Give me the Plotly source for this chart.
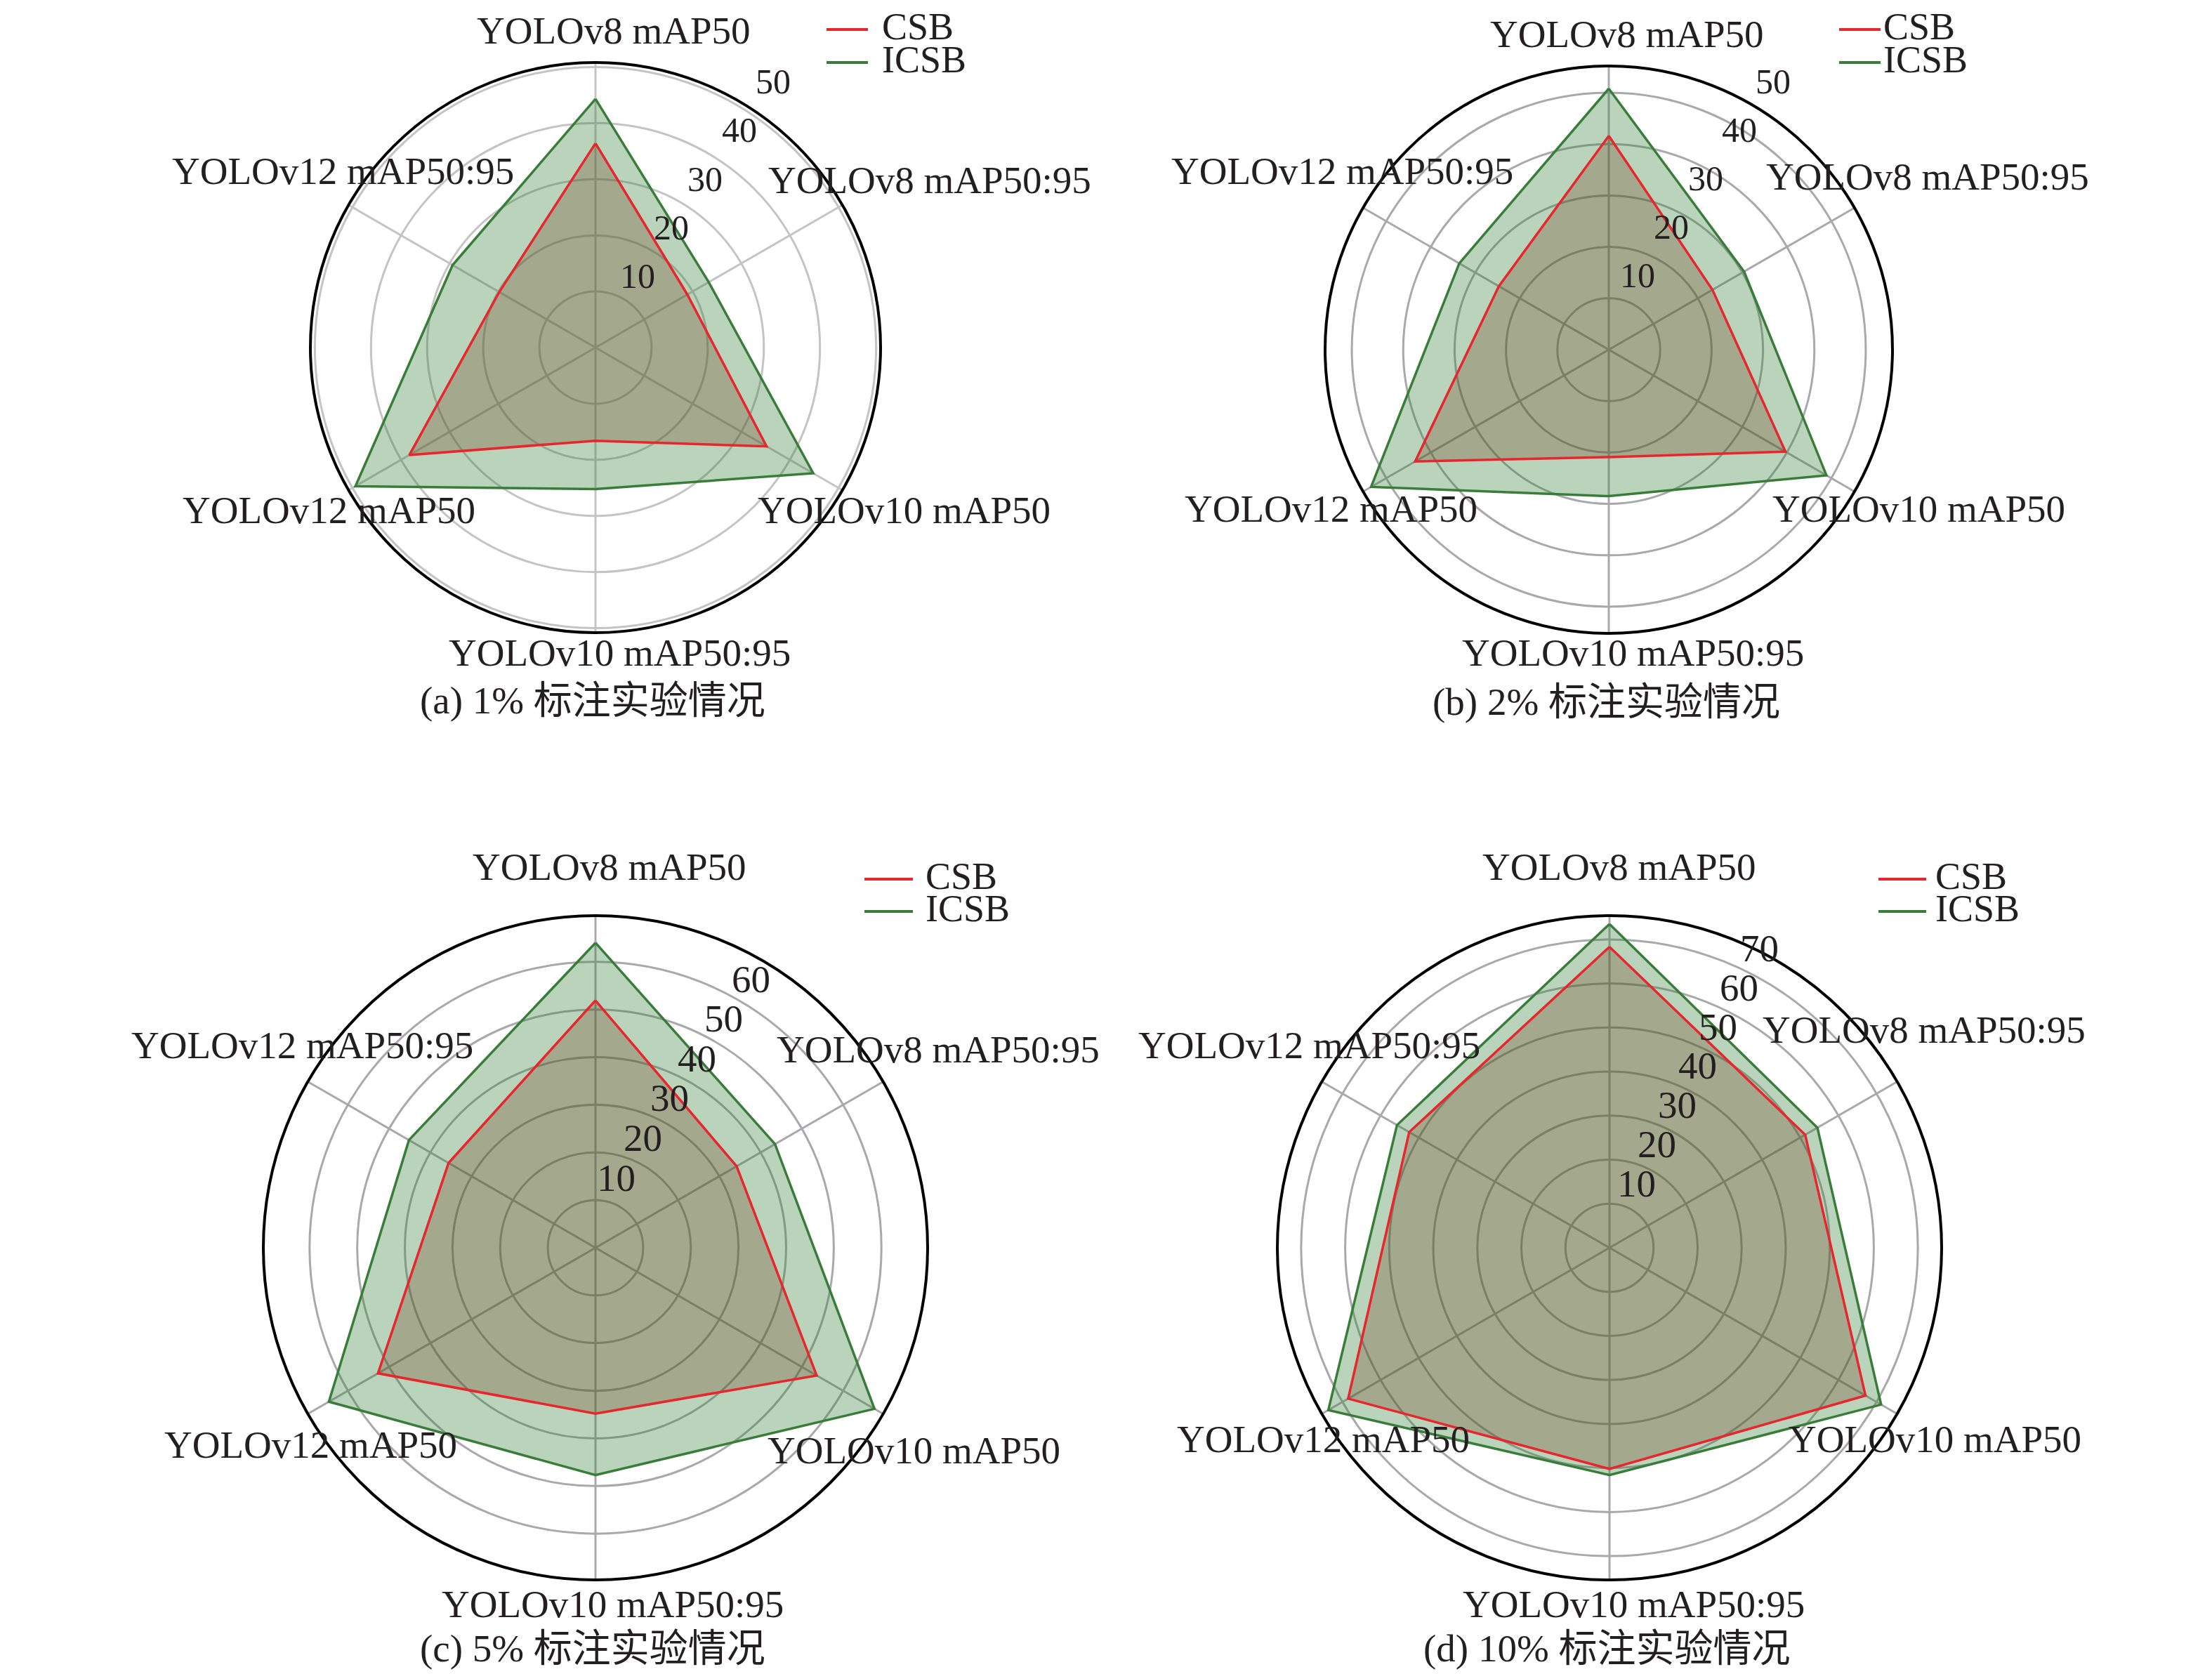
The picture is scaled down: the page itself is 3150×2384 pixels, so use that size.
import numpy as np
import plotly.graph_objects as go

# ── data ──────────────────────────────────────────────────────
categories = ["YOLOv8 mAP50", "YOLOv8 mAP50:95", "YOLOv10 mAP50",
              "YOLOv10 mAP50:95", "YOLOv12 mAP50", "YOLOv12 mAP50:95"]

csb_1  = [36.4, 18.9, 35.2, 16.6, 38.3, 19.8]
icsb_1 = [44.3, 23.3, 44.8, 25.2, 49.4, 29.4]

csb_2  = [41.6, 23.3, 39.7, 20.9, 43.5, 24.7]
icsb_2 = [50.8, 30.4, 48.9, 28.5, 53.4, 33.6]

csb_5  = [51.9, 34.2, 53.6, 34.8, 52.7, 35.6]
icsb_5 = [64.0, 43.5, 67.6, 47.7, 64.6, 45.2]

csb_10  = [68.3, 51.3, 67.1, 50.2, 68.5, 52.5]
icsb_10 = [73.5, 54.5, 71.2, 51.6, 73.7, 55.7]

titles = ["(a) 1% 标注实验情况", "(b) 2% 标注实验情况",
          "(c) 5% 标注实验情况", "(d) 10% 标注实验情况"]
r_max = [50.8, 55.2, 69.7, 75.4]
r_ticks = [[10, 20, 30, 40, 50], [10, 20, 30, 40, 50],
           [10, 20, 30, 40, 50, 60], [10, 20, 30, 40, 50, 60, 70]]

# ── layout helpers ────────────────────────────────────────────
W, H = 3150, 2384
FONT = "Liberation Serif, Times New Roman, Noto Sans CJK SC, serif"
TXT = "#231f20"
RED, GREEN = "#e8262e", "#3a7d3a"
GRID = ["#c4c4c4", "#a9a9ad", "#a9a9ad", "#a9a9ad"]

# panel centre / radius in pixels
panels = [(840, 487, 406), (2283, 490, 404), (840, 1769, 473), (2284, 1769, 473)]

# category label offset from the rim point (px), clockwise from the top
lab_off = [
    [(26, -46), (124, -36), (88, 28), (34, 28), (-28, 28), (-8, -48)],
    [(26, -46), (104, -44), (92, 24), (34, 28), (-46, 24), (-30, -52)],
    [(20, -70), (78, -46), (44, 52), (24, 34), (4, 44), (-8, -52)],
    [(14, -70), (38, -74), (54, 36), (34, 34), (2, 36), (-18, -52)],
]

# radial tick labels: first label offset from centre, step per tick, font size
rlab = [((60, -102), (48.2, -69.2), 50), ((41, -106), (48.3, -69.0), 50),
        ((29, -100), (38.4, -56.6), 55), ((38, -92), (29.2, -55.7), 55)]

# hand-drawn legend: line start x, line length, text x, first row y, row gap
legend_pos = [(1169, 59, 1247, 30, 47), (2611, 59, 2673, 30, 47),
              (1223, 69, 1309, 1240, 46), (2667, 68, 2747, 1240, 46)]

series = [(csb_1, icsb_1), (csb_2, icsb_2), (csb_5, icsb_5), (csb_10, icsb_10)]

fig = go.Figure()
annotations = []
shapes = []


def paper(x, y):
    return x / W, 1 - y / H


for k, (csb, icsb) in enumerate(series):
    pid = "polar" if k == 0 else f"polar{k+1}"
    cx, cy, R = panels[k]
    theta = categories + categories[:1]

    fig.add_trace(go.Scatterpolar(
        r=icsb + icsb[:1], theta=theta, name="ICSB", subplot=pid,
        mode="lines", fill="toself", fillcolor="rgba(46,125,50,0.33)",
        line=dict(color=GREEN, width=3.5), showlegend=False,
    ))
    fig.add_trace(go.Scatterpolar(
        r=csb + csb[:1], theta=theta, name="CSB", subplot=pid,
        mode="lines", fill="toself", fillcolor="rgba(112,65,33,0.30)",
        line=dict(color=RED, width=3.5), showlegend=False,
    ))

    fig.update_layout({
        pid: dict(
            domain=dict(x=[(cx - R) / W, (cx + R) / W],
                        y=[1 - (cy + R) / H, 1 - (cy - R) / H]),
            bgcolor="white",
            angularaxis=dict(
                type="category", categoryarray=categories,
                rotation=90, direction="clockwise",
                showticklabels=False, ticks="",
                showline=True, linecolor="black", linewidth=4,
                showgrid=True, gridcolor=GRID[k], gridwidth=3,
            ),
            radialaxis=dict(
                range=[0, r_max[k]], tickvals=r_ticks[k],
                showline=False, ticks="", showticklabels=False,
                gridcolor=GRID[k], gridwidth=3,
            ),
        ),
    })

    # category labels
    for i, cat in enumerate(categories):
        ang = np.deg2rad(90 - 60 * i)
        ox, oy = lab_off[k][i]
        x, y = paper(cx + R * np.cos(ang) + ox, cy - R * np.sin(ang) + oy)
        annotations.append(dict(
            x=x, y=y, xref="paper", yref="paper",
            text=cat, showarrow=False, xanchor="center", yanchor="middle",
            font=dict(family=FONT, size=55, color=TXT),
        ))

    # radial tick labels
    (sx, sy), (dx, dy), fs = rlab[k]
    for i, tv in enumerate(r_ticks[k]):
        x, y = paper(cx + sx + i * dx, cy + sy + i * dy)
        annotations.append(dict(
            x=x, y=y, xref="paper", yref="paper",
            text=str(tv), showarrow=False, xanchor="center", yanchor="middle",
            font=dict(family=FONT, size=fs, color=TXT),
        ))

    # panel caption
    x, y = paper(cx - 4, cy + R + 97)
    annotations.append(dict(
        x=x, y=y, xref="paper", yref="paper",
        text=titles[k], showarrow=False, xanchor="center", yanchor="middle",
        font=dict(family=FONT, size=55, color=TXT),
    ))

    # legend (CSB over ICSB), rows are tight so the text boxes get a fixed height
    lx, ll, tx, ly, gap = legend_pos[k]
    for j, (name, col) in enumerate([("CSB", RED), ("ICSB", GREEN)]):
        yy = ly + j * gap
        x0, y0 = paper(lx, yy + 4)
        x1, _ = paper(lx + ll, yy + 4)
        shapes.append(dict(
            type="line", xref="paper", yref="paper",
            x0=x0, x1=x1, y0=y0, y1=y0,
            line=dict(color=col, width=4),
        ))
        x, y = paper(tx, yy)
        annotations.append(dict(
            x=x, y=y, xref="paper", yref="paper",
            text=name, showarrow=False, xanchor="left", yanchor="middle",
            height=44, valign="middle", borderpad=0,
            font=dict(family=FONT, size=54, color=TXT),
        ))

fig.update_layout(
    width=W, height=H, autosize=False,
    margin=dict(l=0, r=0, t=0, b=0),
    paper_bgcolor="white",
    annotations=annotations,
    shapes=shapes,
    showlegend=False,
)

fig.write_html("out.html")
